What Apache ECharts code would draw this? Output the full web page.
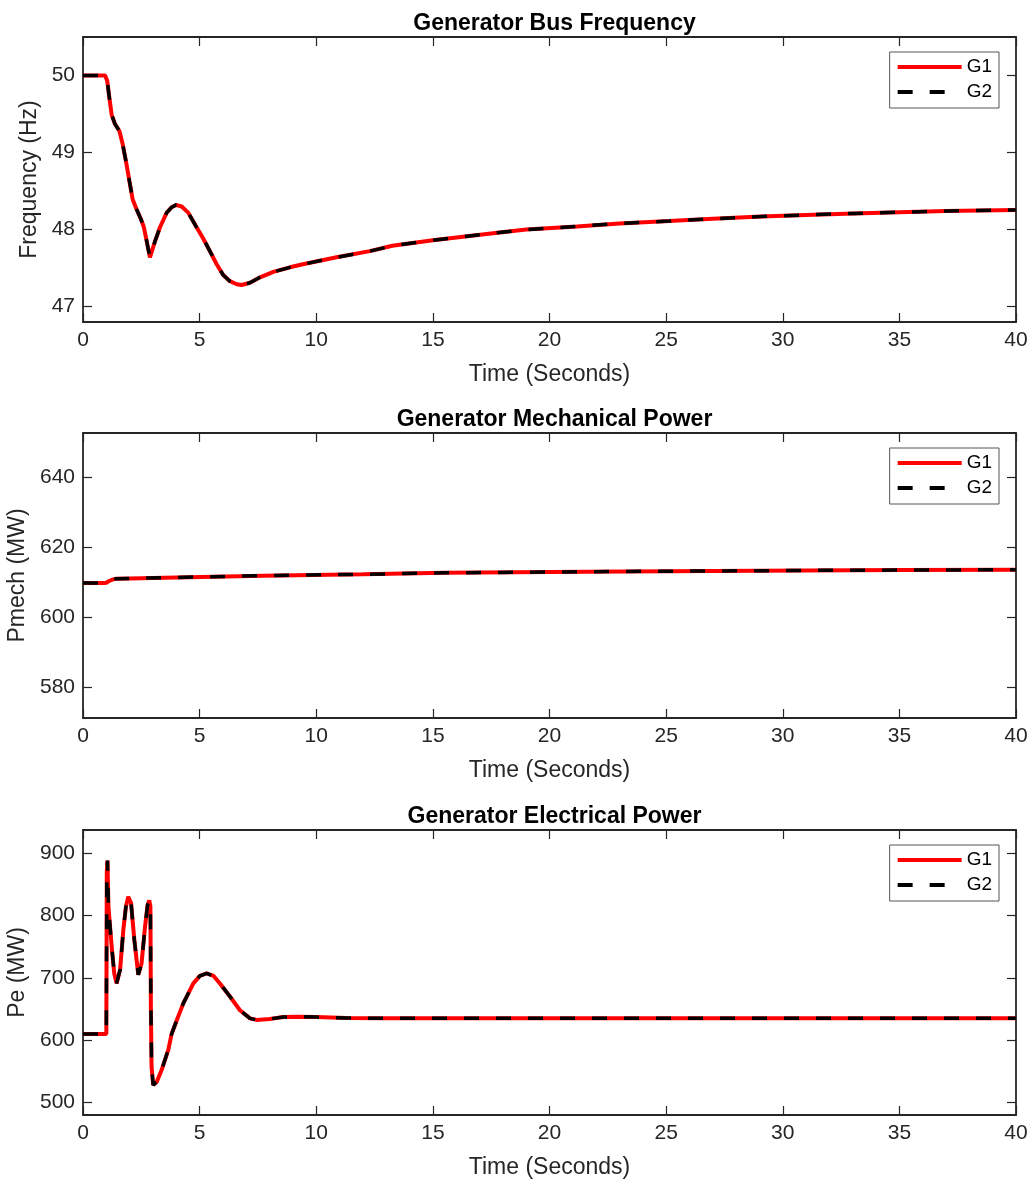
<!DOCTYPE html>
<html>
<head>
<meta charset="utf-8">
<script src="https://cdn.jsdelivr.net/npm/echarts@6/dist/echarts.min.js"></script>
<style>
html,body{margin:0;padding:0;background:#fff;}
#main{width:1031px;height:1182px;}
</style>
</head>
<body>
<div id="main"></div>
<script>
// ---- Data ----
const titles = ['Generator Bus Frequency', 'Generator Mechanical Power', 'Generator Electrical Power'];
const yNames = ['Frequency (Hz)', 'Pmech (MW)', 'Pe (MW)'];
const xName = 'Time (Seconds)';
const seriesNames = ['G1', 'G2'];

const freqT = [0, 0.95, 1.0, 1.04, 1.13, 1.23, 1.37, 1.56, 1.70, 1.84, 1.99, 2.13, 2.30, 2.49, 2.61, 2.73, 2.87,
  3.09, 3.30, 3.59, 3.80, 3.99, 4.23, 4.51, 4.87, 5.16, 5.44, 5.73, 6.01, 6.30, 6.59, 6.80, 7.16, 7.59, 8.16,
  8.87, 9.43, 10.87, 12.30, 13.26, 15.0, 17.21, 19.0, 21.17, 23.0, 25.13, 27.0, 29.08, 31.0, 33.04, 35.0, 37.0, 40.0];
const freqG1 = [50.0, 50.0, 49.99, 49.93, 49.71, 49.49, 49.37, 49.28, 49.11, 48.89, 48.63, 48.39, 48.26, 48.13, 48.03, 47.85, 47.64,
  47.85, 48.03, 48.22, 48.29, 48.32, 48.30, 48.22, 48.03, 47.88, 47.72, 47.55, 47.41, 47.33, 47.29, 47.28, 47.31, 47.38, 47.45,
  47.51, 47.55, 47.64, 47.72, 47.79, 47.86, 47.94, 48.00, 48.04, 48.08, 48.11, 48.14, 48.17, 48.19, 48.21, 48.225, 48.24, 48.255];
const freqG2 = freqG1.slice();

const pmechT = [0, 0.9, 1.0, 1.1, 1.2, 1.3, 1.4, 2.0, 4.0, 7.75, 12.0, 15.5, 20.0, 23.2, 27.0, 31.0, 35.0, 40.0];
const pmechG1 = [609.8, 609.8, 609.9, 610.3, 610.6, 610.85, 611.0, 611.1, 611.4, 611.9, 612.3, 612.7, 612.95, 613.1, 613.25, 613.4, 613.5, 613.6];
const pmechG2 = pmechG1.slice();

const peT = [0, 1.0, 1.02, 1.05, 1.09, 1.23, 1.34, 1.44, 1.59, 1.73, 1.84, 1.94, 2.06, 2.20, 2.37, 2.51, 2.66, 2.77, 2.84, 2.89,
  2.91, 2.94, 3.01, 3.16, 3.37, 3.66, 3.80, 4.02, 4.30, 4.73, 5.01, 5.30, 5.60, 5.87, 6.30, 6.73, 7.16, 7.44, 8.0, 8.59,
  9.16, 10.0, 11.3, 13.0, 20.0, 30.0, 40.0];
const peG1 = [610, 610, 870, 888, 814, 750, 707, 691, 713, 777, 814, 830, 820, 761, 705, 723, 782, 817, 824, 814,
  654, 557, 528, 533, 552, 585, 610, 632, 659, 691, 703, 707, 703, 691, 670, 648, 635, 632.5, 634, 637,
  637.7, 637, 635.5, 635, 635, 635, 635];
const peG2 = peG1.slice();

const yRanges = [[46.8, 50.5], [571.3, 652.6], [480, 937]];
const yTicks = [[47, 48, 49, 50], [580, 600, 620, 640], [500, 600, 700, 800, 900]];

// ---- Layout ----
const gridTops = [37, 433, 830];
const gridH = 285;
const gridLeft = 83, gridRight = 15;
const yNameGaps = [32, 45, 45];
const axisColor = '#262626';
const fontFam = '"Liberation Sans", Arial, Helvetica, sans-serif';

const chart = echarts.init(document.getElementById('main'), null, {renderer: 'canvas'});

const grids = [], xAxes = [], yAxes = [], series = [], titleArr = [], legends = [];
const dataSets = [[freqT, freqG1, freqG2], [pmechT, pmechG1, pmechG2], [peT, peG1, peG2]];

for (let i = 0; i < 3; i++) {
  grids.push({left: gridLeft, right: gridRight, top: gridTops[i], height: gridH, containLabel: false, outerBoundsMode: 'none'});
  const lineSty = {color: axisColor, width: 1.8};
  xAxes.push({
    type: 'value', gridIndex: i, position: 'bottom', min: 0, max: 40, interval: 5,
    axisLine: {show: true, onZero: false, lineStyle: lineSty},
    axisTick: {show: true, inside: true, length: 9, lineStyle: {color: axisColor, width: 1.2}},
    axisLabel: {show: true, color: axisColor, fontSize: 21, fontFamily: fontFam, margin: 8},
    splitLine: {show: false},
    name: xName, nameLocation: 'middle', nameGap: 41,
    nameTextStyle: {color: axisColor, fontSize: 23, fontFamily: fontFam}
  });
  xAxes.push({
    type: 'value', gridIndex: i, position: 'top', min: 0, max: 40, interval: 5,
    axisLine: {show: true, onZero: false, lineStyle: lineSty},
    axisTick: {show: true, inside: true, length: 9, lineStyle: {color: axisColor, width: 1.2}},
    axisLabel: {show: false}, splitLine: {show: false}
  });
  yAxes.push({
    type: 'value', gridIndex: i, position: 'left', min: yRanges[i][0], max: yRanges[i][1],
    axisLine: {show: true, onZero: false, lineStyle: lineSty},
    axisTick: {show: true, inside: true, length: 9, customValues: yTicks[i], lineStyle: {color: axisColor, width: 1.2}},
    axisLabel: {show: true, customValues: yTicks[i], color: axisColor, fontSize: 21, fontFamily: fontFam, margin: 8},
    splitLine: {show: false},
    name: yNames[i], nameLocation: 'middle', nameGap: yNameGaps[i], nameRotate: 90,
    nameTextStyle: {color: axisColor, fontSize: 23, fontFamily: fontFam}
  });
  yAxes.push({
    type: 'value', gridIndex: i, position: 'right', min: yRanges[i][0], max: yRanges[i][1],
    axisLine: {show: true, onZero: false, lineStyle: lineSty},
    axisTick: {show: true, inside: true, length: 9, customValues: yTicks[i], lineStyle: {color: axisColor, width: 1.2}},
    axisLabel: {show: false}, splitLine: {show: false}
  });
  const [t, g1, g2] = dataSets[i];
  series.push({
    name: seriesNames[0], type: 'line', xAxisIndex: 2 * i, yAxisIndex: 2 * i,
    data: t.map((x, k) => [x, g1[k]]), showSymbol: false, symbol: 'none',
    lineStyle: {color: '#ff0000', width: 4}, itemStyle: {color: '#ff0000'}, z: 2
  });
  series.push({
    name: seriesNames[1], type: 'line', xAxisIndex: 2 * i, yAxisIndex: 2 * i,
    data: t.map((x, k) => [x, g2[k]]), showSymbol: false, symbol: 'none',
    lineStyle: {color: '#000000', width: 3.5, type: [15, 17], cap: 'butt'}, itemStyle: {color: '#000000'}, z: 3
  });
  titleArr.push({
    text: titles[i], left: 549.5, textAlign: 'center', top: gridTops[i] - 30,
    textStyle: {color: '#000', fontSize: 23, fontWeight: 'bold', fontFamily: fontFam}
  });
  legends.push({
    data: seriesNames, orient: 'vertical', right: 32, top: gridTops[i] + 15,
    itemWidth: 64, itemHeight: 14, itemGap: 5,
    padding: [5, 7, 6, 6], borderColor: '#555', borderWidth: 1, backgroundColor: '#fff',
    itemStyle: {opacity: 0, borderWidth: 0},
    lineStyle: {width: 4},
    textStyle: {color: '#000', fontSize: 19, lineHeight: 20, fontFamily: fontFam},
    selectedMode: false
  });
}

chart.setOption({
  animation: false,
  backgroundColor: '#fff',
  title: titleArr,
  legend: legends,
  grid: grids,
  xAxis: xAxes,
  yAxis: yAxes,
  series: series
});
</script>
</body>
</html>
